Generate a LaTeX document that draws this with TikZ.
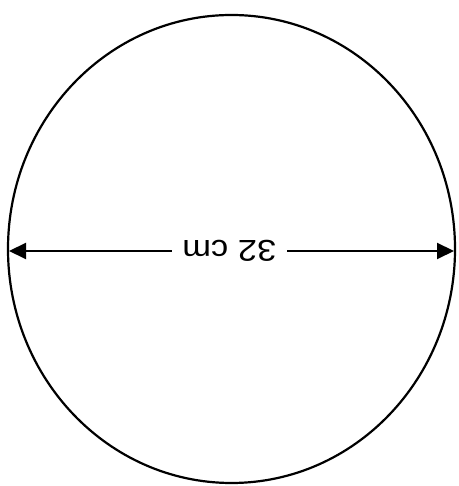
\documentclass[tikz,border=0pt]{standalone}
\usepackage{fontspec}
\setmainfont{Liberation Sans}
\usetikzlibrary{arrows.meta}
\begin{document}
\begin{tikzpicture}[x=1pt,y=1pt,
  dim/.style={line width=2pt, {Triangle[length=17pt,width=16pt]}-{Triangle[length=17pt,width=16pt]}},
  dimlabel/.style={fill=white, inner xsep=9pt, inner ysep=2pt, rotate=180, font=\fontsize{30}{30}\selectfont, xscale=1.15}]
\useasboundingbox (0,0) rectangle (458,486);
% Umfang
\draw[line width=2.2pt] (231.5,237) ellipse [x radius=223.5, y radius=234];
% Durchmesser
\coordinate (links) at (9,235);
\coordinate (rechts) at (454,235);
\draw[dim] (links) -- (rechts) node[dimlabel, pos=0.495] (mass) {32 cm};
\end{tikzpicture}
\end{document}
